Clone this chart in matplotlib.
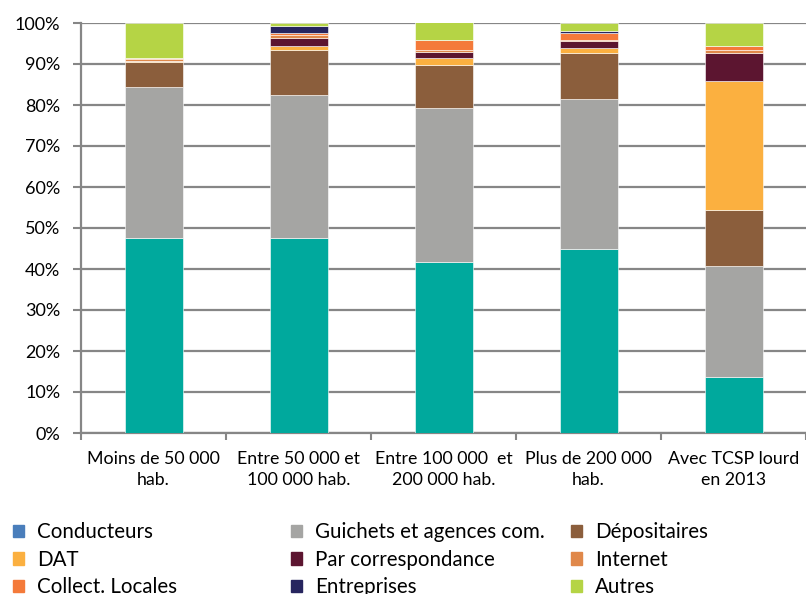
import matplotlib.pyplot as plt
from matplotlib.patches import Patch
from matplotlib.ticker import FixedLocator, PercentFormatter

plt.rcParams["font.family"] = ["Lato", "DejaVu Sans"]

categories = ["Moins de 50 000\nhab.", "Entre 50 000 et\n100 000 hab.", "Entre 100 000  et\n200 000 hab.",
              "Plus de 200 000\nhab.", "Avec TCSP lourd\nen 2013"]

series = ["Conducteurs", "Guichets et agences com.", "Dépositaires", "DAT", "Par correspondance",
          "Internet", "Collect. Locales", "Entreprises", "Autres"]

conducteurs = [47.6, 47.6, 41.6, 44.9, 13.7]
guichets = [36.8, 34.8, 37.7, 36.6, 27.0]
depositaires = [6.0, 11.1, 10.4, 11.3, 13.6]
dat = [0.3, 0.9, 1.8, 1.1, 31.6]
correspondance = [0.1, 2.0, 1.5, 1.6, 6.9]
internet = [0.3, 0.6, 0.5, 0.4, 0.6]
collect_locales = [0.4, 0.5, 2.3, 1.6, 1.1]
entreprises = [0.0, 1.8, 0.0, 0.5, 0.0]
autres = [8.5, 0.8, 4.4, 2.1, 5.5]

valeurs = [conducteurs, guichets, depositaires, dat, correspondance, internet, collect_locales, entreprises, autres]
couleurs = ["#00A99D", "#A5A5A3", "#8B5E3C", "#FBB040", "#5C1530", "#E0884A", "#F47A3A", "#27255F", "#B5D445"]
# la légende d'origine montre "Conducteurs" en bleu
couleurs_legende = ["#4A7EBB"] + couleurs[1:]

gris = "#868686"

fig = plt.figure(figsize=(8.06, 5.94), dpi=100)
ax = fig.add_axes([81 / 806, 1 - 433 / 594, 725 / 806, 410 / 594])

x = list(range(len(categories)))
bas = [0.0] * len(categories)
for nom, vals, c in zip(series, valeurs, couleurs):
    ax.bar(x, vals, width=0.4, bottom=bas, color=c, edgecolor="white", linewidth=0.4, zorder=3)
    bas = [b + v for b, v in zip(bas, vals)]

ax.set_xlim(-0.5, len(categories) - 0.5)
ax.set_ylim(0, 100)
ax.yaxis.set_major_locator(FixedLocator(range(0, 101, 10)))
ax.yaxis.set_major_formatter(PercentFormatter(decimals=0))
ax.grid(axis="y", color=gris, linewidth=1.6, zorder=0)

ax.xaxis.set_major_locator(FixedLocator([i - 0.5 for i in range(len(categories) + 1)]))
ax.xaxis.set_major_formatter(plt.NullFormatter())
ax.xaxis.set_minor_locator(FixedLocator(x))
ax.set_xticklabels(categories, minor=True, fontsize=12.8, linespacing=1.35)
ax.tick_params(axis="x", which="major", length=5, width=1.5, color=gris, direction="out")
ax.tick_params(axis="x", which="minor", length=0, pad=13)
ax.tick_params(axis="y", length=6, width=1.5, color=gris, pad=9, labelsize=13)

for s in ["top", "right"]:
    ax.spines[s].set_visible(False)
for s in ["left", "bottom"]:
    ax.spines[s].set_color(gris)
    ax.spines[s].set_linewidth(1.6)

colonnes = [[0, 3, 6], [1, 4, 7], [2, 5, 8]]
positions = [13 / 806, 291 / 806, 571 / 806]
for idx, xpos in zip(colonnes, positions):
    poignees = [Patch(color=couleurs_legende[i], label=series[i]) for i in idx]
    fig.legend(handles=poignees, loc="upper left", bbox_to_anchor=(xpos, 1 - 522 / 594), frameon=False,
               fontsize=14.8, handlelength=0.55, handleheight=0.55, handletextpad=0.6,
               labelspacing=0.37, borderpad=0, borderaxespad=0)

fig.savefig("out.png", dpi=100)
